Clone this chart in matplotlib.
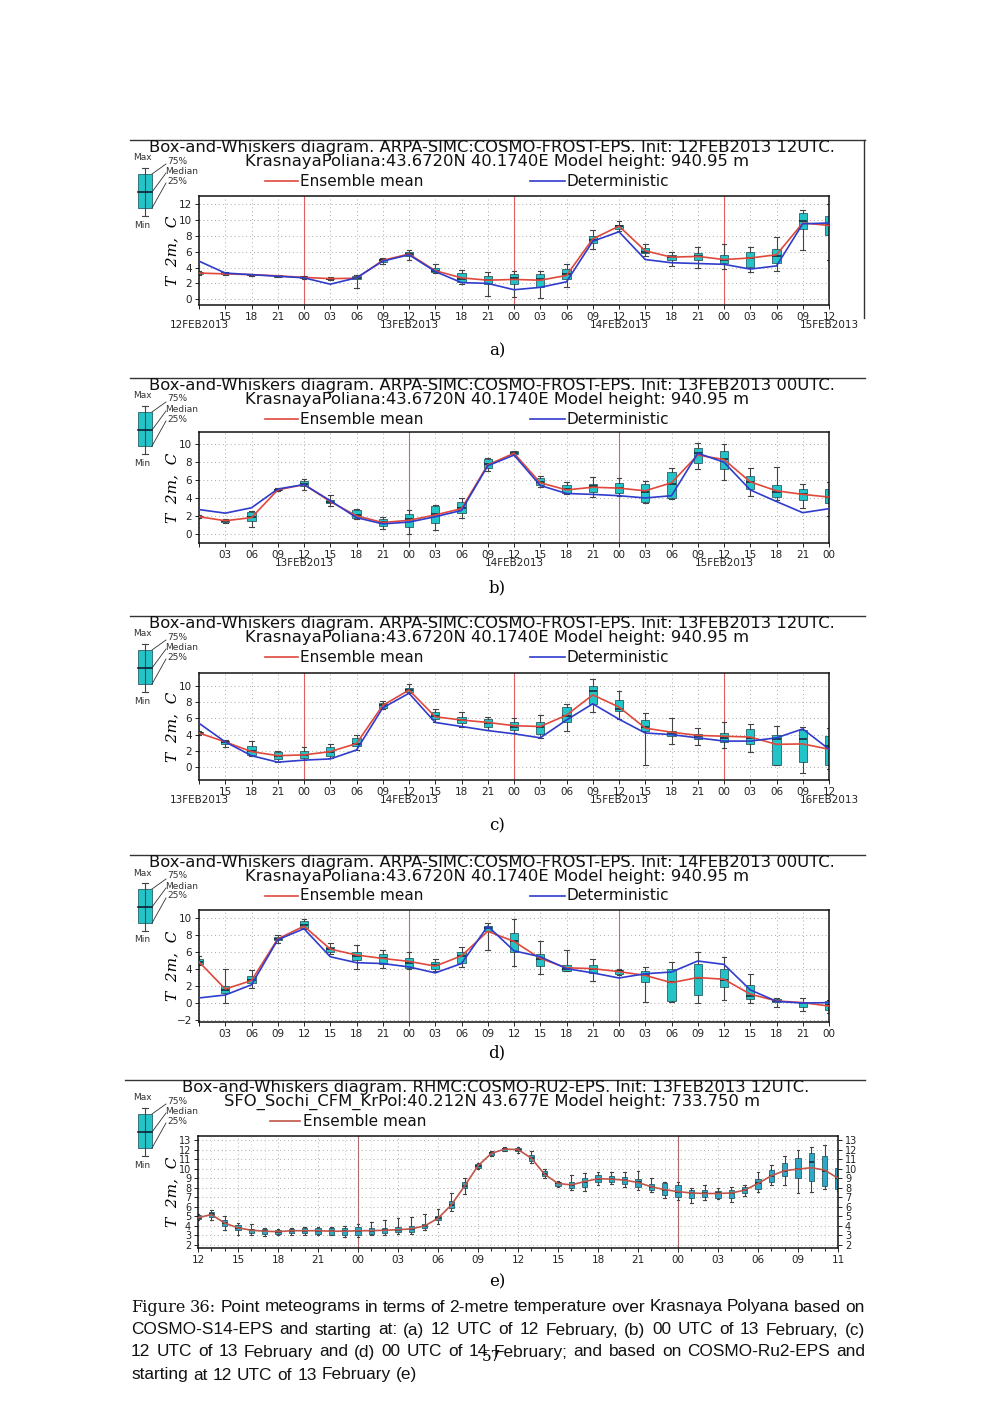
import matplotlib
matplotlib.use("Agg")
import matplotlib.pyplot as plt
from matplotlib.lines import Line2D

W, H = 1000, 1413

# -------------------------------
# x axis (3-hourly steps for a-d, hourly for e)
# -------------------------------
STEPS = list(range(25))
TICKS_12 = ["", "15", "18", "21", "00", "03", "06", "09", "12", "15", "18", "21", "00",
            "03", "06", "09", "12", "15", "18", "21", "00", "03", "06", "09", "12"]
TICKS_00 = ["", "03", "06", "09", "12", "15", "18", "21", "00", "03", "06", "09", "12",
            "15", "18", "21", "00", "03", "06", "09", "12", "15", "18", "21", "00"]
DATES_A = {0: "12FEB2013", 8: "13FEB2013", 16: "14FEB2013", 24: "15FEB2013"}
DATES_B = {4: "13FEB2013", 12: "14FEB2013", 20: "15FEB2013"}
DATES_C = {0: "13FEB2013", 8: "14FEB2013", 16: "15FEB2013", 24: "16FEB2013"}
DATES_D = {}
MIDNIGHT_12 = [4, 12, 20]
MIDNIGHT_00 = [8, 16]

HOURS_E = list(range(49))
E_TICK_POS = [0, 3, 6, 9, 12, 15, 18, 21, 24, 27, 30, 33, 36, 39, 42, 45, 48]
E_TICK_LAB = ["12", "15", "18", "21", "00", "03", "06", "09", "12", "15", "18", "21",
              "00", "03", "06", "09", "11"]
MIDNIGHT_E = [12, 36]

# -------------------------------
# a) init 12FEB2013 12UTC
# -------------------------------
A_MEAN = [3.3, 3.2, 3.1, 2.95, 2.75, 2.6, 2.65, 4.9, 5.7, 3.6, 2.7, 2.4, 2.5, 2.4, 3.0, 7.6, 9.2, 6.1, 5.3, 5.4, 5.0, 5.2, 5.6, 9.6, 9.3]
A_DET = [4.8, 3.3, 3.1, 2.9, 2.7, 1.9, 2.7, 4.8, 5.6, 3.5, 2.1, 2.0, 1.2, 1.5, 2.2, 7.3, 8.5, 5.0, 4.6, 4.5, 4.4, 3.8, 4.2, 9.5, 9.6]
A_MIN = [3.1, 3.1, 2.95, 2.8, 2.6, 2.4, 1.4, 4.5, 5.0, 3.3, 1.9, 0.4, 0.3, 0.2, 1.5, 6.3, 8.6, 5.4, 4.2, 3.9, 3.8, 3.4, 3.6, 6.2, 5.0]
A_Q1 = [3.2, 3.2, 3.0, 2.85, 2.65, 2.5, 2.5, 4.7, 5.4, 3.4, 2.2, 1.9, 1.9, 1.6, 2.6, 7.1, 8.9, 5.8, 4.9, 4.9, 4.6, 4.1, 4.6, 8.8, 8.1]
A_MED = [3.3, 3.25, 3.1, 2.95, 2.75, 2.6, 2.7, 4.9, 5.7, 3.6, 2.6, 2.4, 2.7, 2.5, 3.2, 7.5, 9.2, 6.0, 5.3, 5.4, 5.0, 5.2, 5.5, 9.8, 9.3]
A_Q3 = [3.4, 3.35, 3.15, 3.0, 2.8, 2.7, 2.9, 5.1, 6.0, 3.9, 3.3, 2.9, 3.2, 3.2, 3.8, 8.0, 9.4, 6.4, 5.6, 5.8, 5.6, 5.9, 6.3, 10.8, 10.5]
A_MAX = [3.5, 3.4, 3.2, 3.1, 2.9, 2.8, 3.0, 5.2, 6.2, 4.4, 3.7, 3.4, 3.6, 3.6, 4.4, 8.7, 9.8, 6.9, 6.0, 6.6, 7.0, 6.6, 7.8, 11.3, 12.0]

# b) init 13FEB2013 00UTC
B_MEAN = [1.9, 1.45, 1.8, 4.9, 5.5, 3.6, 2.0, 1.25, 1.5, 2.1, 2.8, 7.7, 9.0, 5.7, 4.9, 5.2, 5.1, 4.8, 5.7, 8.8, 8.3, 5.8, 4.8, 4.4, 4.1]
B_DET = [2.7, 2.3, 2.9, 5.0, 5.5, 3.7, 1.8, 1.1, 1.3, 1.9, 2.6, 7.6, 8.8, 5.4, 4.5, 4.4, 4.25, 4.0, 4.25, 9.0, 8.0, 4.9, 3.6, 2.35, 2.8]
B_MIN = [1.8, 1.2, 0.7, 4.8, 4.9, 3.1, 1.6, 0.5, 0.0, 0.4, 1.8, 7.0, 8.8, 5.2, 4.4, 4.1, 4.2, 3.4, 3.9, 7.2, 6.0, 4.2, 3.8, 2.9, 2.0]
B_Q1 = [1.85, 1.3, 1.4, 4.85, 5.3, 3.4, 1.8, 0.9, 0.8, 1.2, 2.3, 7.3, 8.9, 5.5, 4.5, 4.7, 4.6, 3.6, 4.0, 7.9, 7.2, 5.0, 4.1, 3.8, 3.4]
B_MED = [1.9, 1.45, 1.9, 4.9, 5.6, 3.6, 2.1, 1.3, 1.7, 2.2, 2.9, 7.8, 9.0, 5.8, 5.0, 5.3, 5.1, 4.7, 5.6, 9.0, 8.4, 5.8, 4.7, 4.4, 4.1]
B_Q3 = [2.0, 1.55, 2.4, 5.0, 5.9, 3.8, 2.6, 1.6, 2.2, 3.1, 3.6, 8.4, 9.2, 6.2, 5.4, 5.6, 5.7, 5.6, 6.9, 9.6, 9.2, 6.5, 5.4, 5.0, 5.0]
B_MAX = [2.1, 1.6, 2.5, 5.1, 6.1, 4.3, 2.8, 1.9, 2.6, 3.2, 4.0, 8.5, 9.3, 6.5, 5.8, 6.4, 6.2, 5.9, 7.4, 10.2, 10.0, 7.4, 7.5, 5.6, 5.8]

# c) init 13FEB2013 12UTC
C_MEAN = [4.2, 3.1, 1.9, 1.4, 1.5, 1.9, 2.9, 7.6, 9.5, 6.2, 5.8, 5.5, 5.1, 5.0, 6.4, 8.9, 7.4, 4.8, 4.3, 3.9, 3.8, 3.7, 2.8, 2.85, 2.2]
C_DET = [5.4, 3.1, 1.4, 0.6, 0.85, 1.0, 2.1, 7.3, 9.1, 5.5, 5.0, 4.5, 4.1, 3.6, 5.8, 7.8, 5.9, 4.2, 4.0, 3.6, 3.2, 3.2, 3.6, 4.7, 2.2]
C_MIN = [4.0, 2.5, 1.3, 0.6, 0.9, 1.1, 2.1, 7.2, 9.1, 5.5, 4.9, 4.6, 4.2, 3.6, 4.5, 6.8, 5.9, 0.3, 2.9, 2.7, 2.3, 1.9, 0.2, -0.7, -0.3]
C_Q1 = [4.1, 2.9, 1.5, 1.0, 1.1, 1.3, 2.6, 7.3, 9.3, 5.9, 5.4, 4.9, 4.6, 4.1, 5.6, 7.8, 6.9, 4.4, 3.8, 3.5, 3.1, 2.9, 0.3, 0.6, 0.3]
C_MED = [4.2, 3.1, 2.0, 1.3, 1.5, 1.9, 2.9, 7.6, 9.5, 6.3, 5.8, 5.4, 5.0, 4.9, 6.3, 9.4, 7.2, 4.9, 4.1, 3.8, 3.6, 3.6, 3.4, 3.4, 2.6]
C_Q3 = [4.3, 3.2, 2.6, 1.8, 2.0, 2.5, 3.6, 7.9, 9.7, 6.8, 6.2, 5.9, 5.5, 5.5, 7.4, 10.0, 8.3, 5.8, 4.4, 4.1, 4.2, 4.7, 3.9, 4.6, 3.8]
C_MAX = [4.4, 3.3, 3.2, 2.0, 2.5, 2.8, 3.9, 8.2, 10.2, 7.1, 6.8, 6.2, 6.0, 6.4, 7.8, 10.8, 9.4, 6.7, 6.1, 4.8, 5.6, 5.3, 5.1, 5.0, 4.8]

# d) init 14FEB2013 00UTC
D_MEAN = [4.8, 1.6, 2.6, 7.5, 9.0, 6.3, 5.6, 5.2, 4.85, 4.3, 5.5, 8.4, 7.2, 5.2, 4.1, 4.0, 3.65, 3.2, 2.35, 2.95, 2.75, 1.0, 0.2, 0.0, -0.4]
D_DET = [0.55, 0.9, 2.1, 7.4, 8.7, 5.4, 4.7, 4.6, 4.2, 3.5, 4.6, 9.0, 6.1, 5.4, 4.0, 3.5, 2.9, 3.4, 3.6, 4.9, 4.5, 1.5, 0.15, -0.05, 0.0]
D_MIN = [4.4, 0.0, 1.7, 7.0, 8.7, 5.7, 3.9, 4.1, 4.0, 3.7, 4.2, 6.2, 4.3, 3.4, 3.7, 2.6, 3.3, 0.1, 0.1, 0.0, 0.3, 0.0, -0.5, -1.0, -1.2]
D_Q1 = [4.5, 1.1, 2.3, 7.4, 8.8, 5.9, 5.0, 4.6, 4.1, 4.0, 4.7, 8.4, 6.0, 4.3, 3.7, 3.5, 3.4, 2.4, 0.2, 0.9, 1.8, 0.4, 0.1, -0.5, -0.9]
D_MED = [4.8, 1.5, 2.7, 7.5, 9.1, 6.3, 5.5, 5.2, 4.7, 4.4, 5.5, 8.8, 7.2, 5.1, 4.0, 3.9, 3.7, 3.3, 2.4, 2.9, 2.7, 0.8, 0.25, 0.0, -0.3]
D_Q3 = [5.1, 2.0, 3.1, 7.7, 9.6, 6.6, 6.0, 5.7, 5.2, 4.8, 6.0, 9.0, 8.2, 5.7, 4.4, 4.4, 3.8, 3.7, 4.0, 4.5, 3.9, 2.1, 0.4, 0.1, 0.2]
D_MAX = [5.5, 4.0, 3.8, 8.0, 9.8, 7.0, 6.8, 6.2, 6.0, 5.1, 6.6, 9.4, 9.8, 7.3, 6.2, 5.1, 4.0, 4.2, 4.8, 6.0, 5.4, 3.4, 0.6, 0.6, 0.3]

# e) COSMO-RU2-EPS, init 13FEB2013 12UTC, hourly
E_MEAN = [4.85, 5.2, 4.3, 3.8, 3.55, 3.45, 3.4, 3.5, 3.5, 3.5, 3.45, 3.45, 3.5, 3.5, 3.55, 3.6, 3.7,
          4.0, 4.8, 6.2, 8.2, 10.3, 11.6, 12.05, 12.0, 11.1, 9.4, 8.45, 8.3, 8.65, 8.95, 8.9, 8.8,
          8.55, 8.1, 7.8, 7.6, 7.45, 7.4, 7.4, 7.45, 7.75, 8.45, 9.25, 9.8, 9.95, 10.1, 9.85, 9.0]
E_MIN = [4.6, 4.6, 3.6, 3.1, 3.1, 2.9, 3.1, 3.1, 3.0, 3.0, 3.0, 2.8, 2.8, 3.0, 3.1, 3.2, 3.2,
         3.6, 4.2, 5.6, 7.3, 10.0, 11.3, 11.8, 11.6, 10.6, 9.0, 8.1, 7.8, 7.7, 8.3, 8.4, 8.1,
         7.8, 7.6, 6.9, 6.7, 6.4, 6.7, 6.8, 6.5, 7.1, 7.6, 8.3, 8.3, 7.5, 7.6, 7.9, 7.7]
E_Q1 = [4.7, 4.9, 4.0, 3.6, 3.3, 3.2, 3.2, 3.3, 3.3, 3.2, 3.1, 3.1, 3.1, 3.2, 3.3, 3.4, 3.4,
        3.8, 4.6, 5.9, 8.0, 10.1, 11.4, 11.9, 11.8, 10.8, 9.2, 8.2, 8.0, 8.1, 8.6, 8.6, 8.4,
        8.1, 7.8, 7.2, 7.0, 6.9, 7.0, 6.9, 6.9, 7.4, 7.9, 8.6, 9.2, 9.0, 8.7, 8.2, 7.9]
E_MED = [4.85, 5.2, 4.3, 3.8, 3.55, 3.45, 3.4, 3.5, 3.5, 3.5, 3.45, 3.45, 3.5, 3.5, 3.55, 3.6, 3.7,
         4.0, 4.8, 6.2, 8.2, 10.3, 11.6, 12.05, 12.0, 11.1, 9.4, 8.45, 8.3, 8.65, 8.95, 8.9, 8.8,
         8.55, 8.1, 7.8, 7.6, 7.45, 7.4, 7.4, 7.45, 7.75, 8.45, 9.25, 9.8, 9.95, 10.7, 9.8, 9.0]
E_Q3 = [5.1, 5.5, 4.6, 4.1, 3.7, 3.7, 3.6, 3.7, 3.8, 3.8, 3.8, 3.8, 3.9, 3.8, 3.8, 3.9, 4.0,
        4.2, 5.0, 6.6, 8.6, 10.5, 11.7, 12.2, 12.2, 11.4, 9.8, 8.6, 8.6, 9.0, 9.3, 9.2, 9.1,
        8.9, 8.4, 8.5, 8.3, 7.8, 7.8, 7.7, 7.8, 8.1, 8.9, 9.9, 10.6, 11.1, 11.6, 11.3, 10.1]
E_MAX = [5.2, 5.7, 5.0, 4.3, 4.2, 3.8, 3.7, 3.8, 3.9, 3.9, 3.9, 4.0, 4.2, 4.4, 4.6, 4.8, 4.9,
         5.2, 5.8, 7.4, 9.0, 10.6, 11.8, 12.3, 12.3, 11.8, 10.0, 8.7, 9.3, 9.5, 9.7, 9.7, 9.7,
         9.8, 9.0, 8.6, 8.6, 8.0, 8.3, 8.0, 8.1, 8.3, 9.6, 10.4, 11.3, 12.0, 12.3, 12.5, 10.8]

TITLE_COSMO = "Box-and-Whiskers diagram. ARPA-SIMC:COSMO-FROST-EPS. Init: {}."
SITE_COSMO = "KrasnayaPoliana:43.6720N 40.1740E Model height: 940.95 m"
TITLE_RU2 = "Box-and-Whiskers diagram. RHMC:COSMO-RU2-EPS. Init: 13FEB2013 12UTC."
SITE_RU2 = "SFO_Sochi_CFM_KrPol:40.212N 43.677E Model height: 733.750 m"

CAPTION = [
    "Figure 36: Point meteograms in terms of 2-metre temperature over Krasnaya Polyana based on",
    "COSMO-S14-EPS and starting at: (a) 12 UTC of 12 February, (b) 00 UTC of 13 February, (c)",
    "12 UTC of 13 February and (d) 00 UTC of 14 February; and based on COSMO-Ru2-EPS and",
    "starting at 12 UTC of 13 February (e)",
]

RED = "#e0483c"
BLUE = "#2f3ccc"
RED_E = "#c0554a"
BOX = "#22c4c8"
BOX_E = "#2fa8c8"
TITLE_FS = 11.8

fig = plt.figure(figsize=(W / 100, H / 100), dpi=100)
fig.patch.set_facecolor("white")
rend = fig.canvas.get_renderer()


def fy(y):
    return 1 - y / H


def px_axes(x0, y0, x1, y1):
    return fig.add_axes([x0 / W, 1 - y1 / H, (x1 - x0) / W, (y1 - y0) / H])


def fig_line(xs, ys, **kw):
    fig.add_artist(Line2D([x / W for x in xs], [fy(y) for y in ys], **kw))


def header(top, line1, line2, centers, legend, rule_x0):
    fig_line([rule_x0, 865], [top, top], color="#333333", lw=1.0)
    fig.text(centers[0] / W, fy(top + 7.5), line1, fontsize=TITLE_FS, ha="center", va="center",
             family="DejaVu Sans", color="#111111")
    fig.text(centers[1] / W, fy(top + 21.5), line2, fontsize=TITLE_FS, ha="center", va="center",
             family="DejaVu Sans", color="#111111")
    for (lx0, lx1, tx, label, col) in legend:
        fig_line([lx0, lx1], [top + 41, top + 41], color=col, lw=1.2)
        fig.text(tx / W, fy(top + 41), label, fontsize=11, ha="left", va="center", color="#111111")
    # box legend icon
    fig_line([145, 145], [top + 28, top + 76], color="#444444", lw=0.8)
    fig_line([142, 148], [top + 28, top + 28], color="#444444", lw=0.8)
    fig_line([142, 148], [top + 76, top + 76], color="#444444", lw=0.8)
    fig.add_artist(plt.Rectangle((138 / W, fy(top + 68)), 14 / W, 34 / H, facecolor=BOX,
                                 edgecolor="#2a6068", lw=0.6, transform=fig.transFigure))
    fig_line([138, 152], [top + 52, top + 52], color="#102030", lw=1.2)
    for (ya, yb) in [(34, 24), (52, 33), (68, 43)]:
        fig_line([152, 166], [top + ya, top + yb], color="#333333", lw=0.6)
    fig.text(142 / W, fy(top + 18), "Max", fontsize=6.5, ha="center", va="center", color="#333333")
    fig.text(142 / W, fy(top + 85), "Min", fontsize=6.5, ha="center", va="center", color="#333333")
    fig.text(167 / W, fy(top + 21), "75%", fontsize=6.5, ha="left", va="center", color="#333333")
    fig.text(165 / W, fy(top + 31), "Median", fontsize=6.5, ha="left", va="center", color="#333333")
    fig.text(167 / W, fy(top + 41), "25%", fontsize=6.5, ha="left", va="center", color="#333333")


def draw_boxes(ax, x, mean, det, mn, q1, med, q3, mx, width, face, mean_col):
    stats = [dict(whislo=a, q1=b, med=c, q3=d, whishi=e, fliers=[])
             for a, b, c, d, e in zip(mn, q1, med, q3, mx)]
    ax.bxp(stats, positions=x, widths=width, patch_artist=True, showfliers=False,
           manage_ticks=False, capwidths=width * 0.55,
           boxprops=dict(facecolor=face, edgecolor="#2a6068", linewidth=0.6),
           medianprops=dict(color="#102030", linewidth=1.1),
           whiskerprops=dict(color="#444444", linewidth=0.8),
           capprops=dict(color="#444444", linewidth=0.8))
    ax.plot(x, mean, color=mean_col, lw=1.2, zorder=4)
    if det is not None:
        ax.plot(x, det, color=BLUE, lw=1.2, zorder=4)


def style_axes(ax, ylim, yticks):
    ax.set_ylim(*ylim)
    ax.set_yticks(yticks)
    ax.grid(True, which="major", linestyle=(0, (1, 3)), color="#aaaaaa", lw=0.7)
    ax.set_axisbelow(True)
    ax.tick_params(direction="out", length=3, width=0.7, labelsize=7.5, pad=2, colors="#222222")
    for sp in ax.spines.values():
        sp.set_linewidth(1.1)
        sp.set_color("#111111")


def cosmo_panel(box, top, init, ticks, dates, midnight, mean, det, mn, q1, med, q3, mx, ylim, yticks, tag, tag_y):
    header(top, TITLE_COSMO.format(init), SITE_COSMO, (492, 497),
           [(265, 298, 300, "Ensemble mean", RED), (530, 565, 567, "Deterministic", BLUE)], 130)
    ax = px_axes(*box)
    for m in midnight:
        ax.axvline(m, color="#e06060", lw=0.8, zorder=1)
    draw_boxes(ax, STEPS, mean, det, mn, q1, med, q3, mx, 0.32, BOX, RED)
    ax.set_xlim(STEPS[0], STEPS[-1])
    ax.set_xticks(STEPS)
    ax.set_xticklabels(ticks)
    style_axes(ax, ylim, yticks)
    # date row below the hour labels
    ax_h = box[3] - box[1]
    for i, d in dates.items():
        ax.text(STEPS[i], -20 / ax_h, d, transform=ax.get_xaxis_transform(), fontsize=7.5,
                ha="center", va="center", color="#222222")
    fig.text(172 / W, fy((box[1] + box[3]) / 2), "T  2m,  C", rotation=90, fontsize=11,
             family="DejaVu Serif", style="italic", ha="center", va="center")
    fig.text(497 / W, fy(tag_y), tag, fontsize=12, family="DejaVu Serif", ha="center", va="center")
    return ax


cosmo_panel((199, 196, 829, 305), 140, "12FEB2013 12UTC", TICKS_12, DATES_A, MIDNIGHT_12,
            A_MEAN, A_DET, A_MIN, A_Q1, A_MED, A_Q3, A_MAX, (-0.72, 13.0), range(0, 13, 2), "a)", 351)
fig_line([864, 864], [140, 318], color="#333333", lw=1.0)
cosmo_panel((199, 432, 829, 543), 378, "13FEB2013 00UTC", TICKS_00, DATES_B, MIDNIGHT_00,
            B_MEAN, B_DET, B_MIN, B_Q1, B_MED, B_Q3, B_MAX, (-1.04, 11.38), range(0, 11, 2), "b)", 588)
cosmo_panel((199, 673, 829, 780), 616, "13FEB2013 12UTC", TICKS_12, DATES_C, MIDNIGHT_12,
            C_MEAN, C_DET, C_MIN, C_Q1, C_MED, C_Q3, C_MAX, (-1.6, 11.6), range(0, 11, 2), "c)", 826)
cosmo_panel((199, 910, 829, 1022), 855, "14FEB2013 00UTC", TICKS_00, DATES_D, MIDNIGHT_00,
            D_MEAN, D_DET, D_MIN, D_Q1, D_MED, D_Q3, D_MAX, (-2.28, 10.9), range(-2, 11, 2), "d)", 1053)

# ---- e) COSMO-RU2-EPS ----
header(1080, TITLE_RU2, SITE_RU2, (496, 492), [(270, 300, 303, "Ensemble mean", RED_E)], 125)
axe = px_axes(198, 1136, 838, 1248)
for m in MIDNIGHT_E:
    axe.axvline(m, color="#b06a6a", lw=0.8, zorder=1)
draw_boxes(axe, HOURS_E, E_MEAN, None, E_MIN, E_Q1, E_MED, E_Q3, E_MAX, 0.4, BOX_E, RED_E)
axe.set_xlim(HOURS_E[0], HOURS_E[-1])
axe.set_xticks(E_TICK_POS)
axe.set_xticklabels(E_TICK_LAB)
axe.set_xticks(HOURS_E, minor=True)
style_axes(axe, (1.69, 13.42), range(2, 14))
axe.grid(True, which="minor", axis="x", linestyle=(0, (1, 3)), color="#cccccc", lw=0.6)
axe.tick_params(which="minor", direction="out", length=2, width=0.6)
axe.tick_params(axis="y", right=True, labelright=True, labelsize=7)
fig.text(172 / W, fy(1192), "T  2m,  C", rotation=90, fontsize=11,
         family="DejaVu Serif", style="italic", ha="center", va="center")
fig.text(497 / W, fy(1282), "e)", fontsize=12, family="DejaVu Serif", ha="center", va="center")

# ---- caption (justified), size chosen so the short last line spans ~285 px ----
CAP_FONT = "Liberation Sans"
probe = fig.text(0, 0, CAPTION[-1], fontsize=10, family=CAP_FONT)
cap_fs = 10 * 285 / probe.get_window_extent(rend).width
probe.remove()
CAP_Y = [1307, 1330, 1352, 1375]
for k, (line, y) in enumerate(zip(CAPTION, CAP_Y)):
    words = line.split(" ")
    texts, widths = [], []
    for j, wd in enumerate(words):
        fam = "DejaVu Serif" if (k == 0 and j < 2) else CAP_FONT
        fs = cap_fs * 0.93 if fam == "DejaVu Serif" else cap_fs
        t = fig.text(0, fy(y), wd, fontsize=fs, family=fam, ha="left", va="center", color="#111111")
        texts.append(t)
        widths.append(t.get_window_extent(rend).width)
    if k < len(CAPTION) - 1:
        gap = (865 - 131 - sum(widths)) / (len(words) - 1)
    else:
        gap = 0.3 * cap_fs * 100 / 72
    x = 131
    for t, wd in zip(texts, widths):
        t.set_x(x / W)
        x += wd + gap

fig.text(491 / W, fy(1357), "57", fontsize=11, family="DejaVu Serif", ha="center", va="center")

fig.savefig("out.png", dpi=100, facecolor="white")
